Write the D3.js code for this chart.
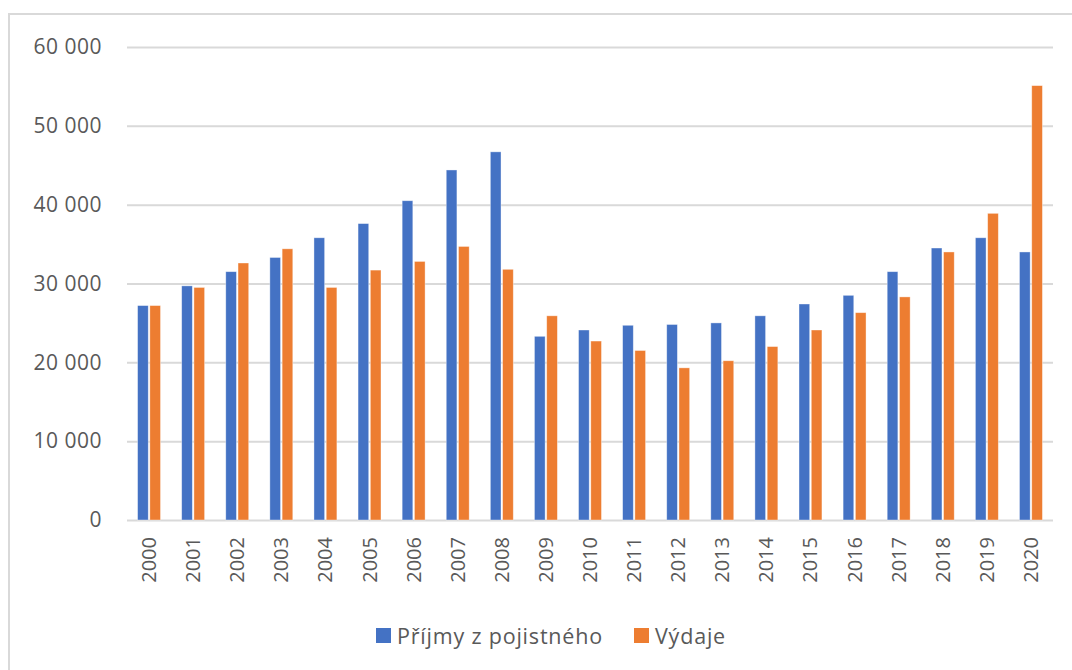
<!DOCTYPE html>
<html lang="cs">
<head>
<meta charset="UTF-8">
<title>Příjmy z pojistného a výdaje</title>
<script src="https://cdn.jsdelivr.net/npm/d3@7/dist/d3.min.js"></script>
<style>
  body { margin: 0; background: #fff; }
  text { font-family: "Open Sans", "Noto Sans", sans-serif; fill: #595959; }
</style>
</head>
<body>
<div id="container"></div>
<script>
// data
const years = ["2000","2001","2002","2003","2004","2005","2006","2007","2008","2009","2010",
               "2011","2012","2013","2014","2015","2016","2017","2018","2019","2020"];
const prijmy = [27200, 29700, 31500, 33300, 35800, 37600, 40500, 44400, 46700, 23300, 24100,
                24700, 24800, 25000, 25900, 27400, 28500, 31500, 34500, 35800, 34000];
const vydaje = [27200, 29500, 32600, 34400, 29500, 31700, 32800, 34700, 31800, 25900, 22700,
                21500, 19300, 20200, 22000, 24100, 26300, 28300, 34000, 38900, 55100];
const seriesNames = ["Příjmy z pojistného", "Výdaje"];
const seriesColors = ["#4472c4", "#ed7d31"];
const yTicks = [0, 10000, 20000, 30000, 40000, 50000, 60000];

const W = 1072, H = 670;
const plotLeft = 127, plotRight = 1053, plotTop = 47, plotBottom = 520;

let svg = d3.select('#container')
    .append('svg')
    .attr('width', W)
    .attr('height', H);

// chart frame
svg.append('rect')
    .attr('x', 9).attr('y', 14)
    .attr('width', 1100).attr('height', 700)
    .attr('fill', '#fff')
    .attr('stroke', '#d9d9d9')
    .attr('stroke-width', 2);

let x0 = d3.scaleBand()
    .domain(years)
    .range([plotLeft, plotRight])
    .paddingInner(0.48)
    .paddingOuter(0.24);

let x1 = d3.scaleBand()
    .domain(seriesNames)
    .range([0, x0.bandwidth()])
    .paddingInner(0.13);

let y = d3.scaleLinear()
    .domain([0, 60000])
    .range([plotBottom, plotTop]);

const cz = d3.formatLocale({ decimal: ",", thousands: "\u00a0", grouping: [3], currency: ["", " Kč"] });

// y axis + gridlines
let yAxis = svg.append('g')
    .attr('transform', 'translate(' + plotLeft + ',0)')
    .call(d3.axisLeft(y).tickValues(yTicks).tickFormat(cz.format(",d"))
        .tickSize(-(plotRight - plotLeft)).tickPadding(25));
yAxis.select('.domain').remove();
yAxis.selectAll('line').attr('stroke', '#d9d9d9').attr('stroke-width', 2);
yAxis.selectAll('text')
    .style('font-size', '21px')
    .style('letter-spacing', '0.5px')
    .attr('fill', '#595959');

// bars
let groups = svg.append('g')
    .selectAll('g')
    .data(years)
    .join('g')
    .attr('transform', d => 'translate(' + x0(d) + ',0)');

groups.selectAll('rect')
    .data((d, i) => [
        { key: seriesNames[0], value: prijmy[i], color: seriesColors[0] },
        { key: seriesNames[1], value: vydaje[i], color: seriesColors[1] }
    ])
    .join('rect')
    .attr('x', d => x1(d.key))
    .attr('y', d => y(d.value))
    .attr('width', x1.bandwidth())
    .attr('height', d => y(0) - y(d.value))
    .attr('fill', d => d.color)
    .attr('stroke', '#ffffff')
    .attr('stroke-opacity', 0.5)
    .attr('stroke-width', 0.75);

// x axis labels (rotated)
let xAxis = svg.append('g')
    .attr('transform', 'translate(0,' + plotBottom + ')')
    .call(d3.axisBottom(x0).tickSize(0).tickPadding(0));
xAxis.select('.domain').remove();
xAxis.selectAll('text')
    .style('font-size', '20px')
    .attr('fill', '#595959')
    .attr('text-anchor', 'end')
    .attr('transform', 'translate(0,17) rotate(-90)')
    .attr('x', 0)
    .attr('y', 0)
    .attr('dy', '0.35em');

// legend
let legend = svg.append('g');
const legendX = [376, 634];
seriesNames.forEach((name, i) => {
    legend.append('rect')
        .attr('x', legendX[i]).attr('y', 628)
        .attr('width', 15).attr('height', 15)
        .attr('fill', seriesColors[i]);
    legend.append('text')
        .attr('x', legendX[i] + 21).attr('y', 636)
        .attr('dy', '0.35em')
        .style('font-size', '21.5px')
        .style('letter-spacing', '0.8px')
        .text(name);
});
</script>
</body>
</html>
